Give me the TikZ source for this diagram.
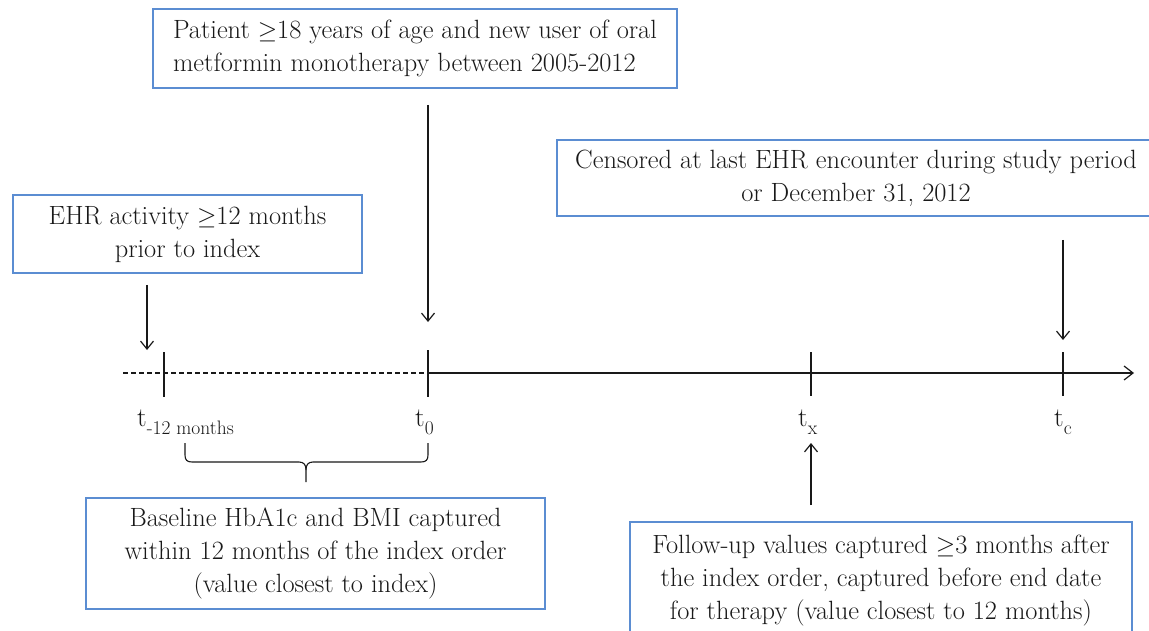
\documentclass[tikz,border=0pt]{standalone}
\usepackage{fontspec}
\usetikzlibrary{arrows.meta}
\definecolor{boxblue}{RGB}{91,141,210}
\definecolor{ink}{RGB}{25,25,25}
\newcommand{\gex}{\ensuremath{\geq}}
\begin{document}
\begin{tikzpicture}[x=1pt,y=-1pt,
  box/.style={draw=boxblue, line width=1.4pt, fill=white, inner sep=0pt, align=center, text=ink, font=\fontsize{26.4}{33}\selectfont},
  arr/.style={draw=ink, line width=1.2pt, -{Straight Barb[length=8pt,width=13pt,line width=1.2pt]}},
  axisline/.style={draw=ink, line width=1.2pt},
  tickmark/.style={draw=ink, line width=1.2pt},
  lbl/.style={text=ink, inner sep=0pt, font=\fontsize{27}{30}\selectfont}]
\clip (0,0) rectangle (1149,631);
\fill[white] (0,0) rectangle (1149,631);

% boxes
\node[box, align=left, minimum width=524pt, minimum height=79pt] (topbox) at (415,48.5)
  {Patient \gex18 years of age and new user of oral\\metformin monotherapy between 2005-2012};
\node[box, minimum width=349pt, minimum height=78pt] (ehrbox) at (187.5,234)
  {EHR activity \gex12 months\\prior to index};
\node[box, minimum width=598pt, minimum height=76pt] (censbox) at (856,178)
  {Censored at last EHR encounter during study period\\or December 31, 2012};
\node[box, minimum width=459pt, minimum height=111pt] (basebox) at (315.5,553.5)
  {Baseline HbA1c and BMI captured\\within 12 months of the index order\\(value closest to index)};
\node[box, minimum width=502pt, minimum height=118pt] (fupbox) at (881,581)
  {Follow-up values captured \gex3 months after\\the index order, captured before end date\\for therapy (value closest to 12 months)};

% axis
\coordinate (axL) at (123,373);
\coordinate (ax0) at (428,373);
\coordinate (axR) at (1134,373);
\draw[axisline, dash pattern=on 5pt off 3pt] (axL) -- (ax0);
\draw[axisline, -{Straight Barb[length=9pt,width=14pt,line width=1.2pt]}] (ax0) -- (axR);

% ticks
\coordinate (k1t) at (164,352); \coordinate (k1b) at (164,397);
\coordinate (k2t) at (428,350); \coordinate (k2b) at (428,397);
\coordinate (k3t) at (811,352); \coordinate (k3b) at (811,396);
\coordinate (k4t) at (1063,352); \coordinate (k4b) at (1063,396);
\draw[tickmark] (k1t) -- (k1b);
\draw[tickmark] (k2t) -- (k2b);
\draw[tickmark] (k3t) -- (k3b);
\draw[tickmark] (k4t) -- (k4b);

% tick labels
\node[lbl, anchor=base west] (lm12) at (137,426) {t\raisebox{-8pt}{\fontsize{19.5}{20}\selectfont -12 months}};
\node[lbl, anchor=base west] (l0) at (415,426) {t\raisebox{-8pt}{\fontsize{19.5}{20}\selectfont 0}};
\node[lbl, anchor=base west] (lx) at (798,426) {t\raisebox{-8pt}{\fontsize{19.5}{20}\selectfont x}};
\node[lbl, anchor=base west] (lc) at (1054,426) {t\raisebox{-8pt}{\fontsize{19.5}{20}\selectfont c}};

% arrows
\coordinate (a1s) at (147,285); \coordinate (a1e) at (147,350);
\coordinate (a2s) at (428,105); \coordinate (a2e) at (428,322);
\coordinate (a3s) at (1063,240); \coordinate (a3e) at (1063,340);
\coordinate (a4s) at (811,505); \coordinate (a4e) at (811,443);
\draw[arr] (a1s) -- (a1e);
\draw[arr] (a2s) -- (a2e);
\draw[arr] (a3s) -- (a3e);
\draw[arr] (a4s) -- (a4e);

% brace
\draw[axisline, line width=1.1pt] (185,443) -- (185,455) .. controls (185,460) and (187,462) .. (192,462) -- (299,462) .. controls (304,462) and (306,465) .. (306,470) -- (306,482);
\draw[axisline, line width=1.1pt] (306,470) .. controls (306,465) and (308,462) .. (313,462) -- (421,462) .. controls (426,462) and (428,460) .. (428,455) -- (428,443);
\end{tikzpicture}
\end{document}
